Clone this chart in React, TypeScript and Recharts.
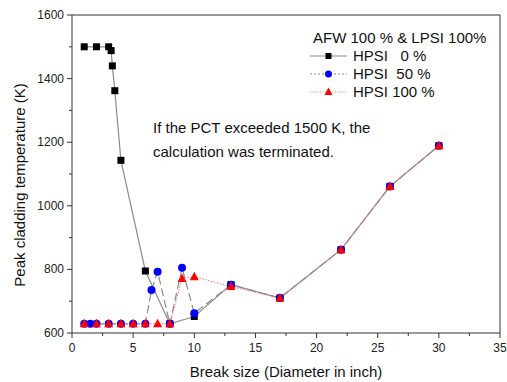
import { LineChart, Line, XAxis, YAxis, Legend, ReferenceLine } from "recharts";

const FONT = '"Liberation Sans", Arial, sans-serif';

// break size (inch) / peak cladding temperature (K)
const hpsi0X = [1, 2, 3, 3.2, 3.3, 3.5, 4, 6, 8, 10, 13, 17, 22, 26, 30];
const hpsi0Y = [1500, 1500, 1500, 1488, 1440, 1362, 1143, 795, 629, 652, 752, 710, 862, 1061, 1189];

const hpsi50X = [1, 1.5, 2, 3, 4, 5, 6, 6.5, 7, 8, 9, 10, 13, 17, 22, 26, 30];
const hpsi50Y = [629, 629, 629, 629, 629, 629, 629, 735, 793, 629, 805, 662, 752, 710, 862, 1061, 1189];

const hpsi100X = [1, 2, 3, 4, 5, 6, 7, 8, 9, 10, 13, 17, 22, 26, 30];
const hpsi100Y = [629, 629, 629, 629, 629, 629, 629, 629, 771, 777, 746, 710, 862, 1061, 1189];

const xTicks = [0, 2.5, 5, 7.5, 10, 12.5, 15, 17.5, 20, 22.5, 25, 27.5, 30, 32.5, 35];
const yTicks = [600, 700, 800, 900, 1000, 1100, 1200, 1300, 1400, 1500, 1600];

const toRows = (xs: number[], ys: number[]) => xs.map((x, i) => ({ x, y: ys[i] }));

const AXIS = "#333";
const TEXT = "#111";

function XTick(props: any) {
    const { x, y, payload } = props;
    const major = payload.value % 5 === 0;
    return (
        <g>
            <line x1={x} x2={x} y1={y} y2={y + (major ? 5 : 3)} stroke={AXIS} />
            {major && (
                <text x={x} y={y + 19} textAnchor="middle" fontSize={12} fill="#222" fontFamily={FONT}>
                    {payload.value}
                </text>
            )}
        </g>
    );
}

function YTick(props: any) {
    const { x, y, payload } = props;
    const major = payload.value % 200 === 0;
    return (
        <g>
            <line x1={x} x2={x - (major ? 5 : 3)} y1={y} y2={y} stroke={AXIS} />
            {major && (
                <text x={x - 8} y={y + 4} textAnchor="end" fontSize={12} fill="#222" fontFamily={FONT}>
                    {payload.value}
                </text>
            )}
        </g>
    );
}

function XLabel(props: any) {
    const { x, y, width } = props.viewBox;
    return (
        <text x={x + width / 2} y={y + 44} textAnchor="middle" fontSize={15} fill={TEXT} fontFamily={FONT}>
            Break size (Diameter in inch)
        </text>
    );
}

function YLabel(props: any) {
    const { y, height } = props.viewBox;
    const cx = 25;
    const cy = y + height / 2 + 11;
    return (
        <text
            x={cx}
            y={cy}
            transform={`rotate(-90, ${cx}, ${cy})`}
            textAnchor="middle"
            fontSize={15}
            fill={TEXT}
            fontFamily={FONT}
        >
            Peak cladding temperature (K)
        </text>
    );
}

const square = (p: any) => (
    <rect key={`s${p.index}`} x={p.cx - 3.5} y={p.cy - 3.5} width={7} height={7} fill="#000" />
);
const circle = (p: any) => <circle key={`c${p.index}`} cx={p.cx} cy={p.cy} r={4} fill="#0000ff" />;
const triangle = (p: any) => (
    <polygon
        key={`t${p.index}`}
        points={`${p.cx},${p.cy - 5} ${p.cx - 4.5},${p.cy + 3.5} ${p.cx + 4.5},${p.cy + 3.5}`}
        fill="#ff0000"
    />
);

const legendRows = [
    { name: "HPSI   0 %", stroke: "#888", dash: undefined, marker: "square" },
    { name: "HPSI  50 %", stroke: "#8a8aa8", dash: "2 2", marker: "circle" },
    { name: "HPSI 100 %", stroke: "#f08080", dash: "1 1.5", marker: "triangle" },
];

function LegendBox() {
    return (
        <div style={{ fontFamily: FONT, fontSize: 15, color: TEXT, lineHeight: "18px" }}>
            <div style={{ paddingLeft: 3 }}>AFW 100 % &amp; LPSI 100%</div>
            {legendRows.map((r) => (
                <div key={r.name} style={{ display: "flex", alignItems: "center", height: 18 }}>
                    <svg width={37} height={18} style={{ marginRight: 6 }}>
                        <line x1={0} x2={37} y1={9} y2={9} stroke={r.stroke} strokeDasharray={r.dash} />
                        {r.marker === "square" && <rect x={15.5} y={6} width={6} height={6} fill="#000" />}
                        {r.marker === "circle" && <circle cx={18.5} cy={9} r={3.5} fill="#0000ff" />}
                        {r.marker === "triangle" && <polygon points="18.5,4.5 14.5,12 22.5,12" fill="#ff0000" />}
                    </svg>
                    <span style={{ whiteSpace: "pre" }}>{r.name}</span>
                </div>
            ))}
        </div>
    );
}

export default function App() {
    return (
        <div style={{ position: "absolute", left: 0, top: 0, width: 507, height: 382, fontFamily: FONT }}>
            <LineChart width={507} height={382} margin={{ top: 15, right: 7, left: 0, bottom: 0 }}>
                <XAxis
                    dataKey="x"
                    type="number"
                    domain={[0, 35]}
                    ticks={xTicks}
                    interval={0}
                    tick={<XTick />}
                    tickLine={false}
                    tickSize={0}
                    tickMargin={0}
                    height={49}
                    axisLine={{ stroke: AXIS }}
                    allowDuplicatedCategory={false}
                    label={<XLabel />}
                />
                <YAxis
                    dataKey="y"
                    type="number"
                    domain={[600, 1600]}
                    ticks={yTicks}
                    interval={0}
                    tick={<YTick />}
                    tickLine={false}
                    tickSize={0}
                    tickMargin={0}
                    width={72}
                    axisLine={{ stroke: AXIS }}
                    label={<YLabel />}
                />
                <ReferenceLine y={1600} stroke={AXIS} />
                <ReferenceLine x={35} stroke={AXIS} />
                <Line
                    data={toRows(hpsi0X, hpsi0Y)}
                    dataKey="y"
                    name="HPSI 0 %"
                    stroke="#8c8c8c"
                    strokeWidth={1.2}
                    dot={square}
                    activeDot={false}
                    isAnimationActive={false}
                />
                <Line
                    data={toRows(hpsi50X, hpsi50Y)}
                    dataKey="y"
                    name="HPSI 50 %"
                    stroke="#8a8a8a"
                    strokeWidth={1.2}
                    strokeDasharray="8 4"
                    dot={circle}
                    activeDot={false}
                    isAnimationActive={false}
                />
                <Line
                    data={toRows(hpsi100X, hpsi100Y)}
                    dataKey="y"
                    name="HPSI 100 %"
                    stroke="#f07070"
                    strokeWidth={1}
                    strokeDasharray="1.5 1.5"
                    dot={triangle}
                    activeDot={false}
                    isAnimationActive={false}
                />
                <Legend
                    layout="vertical"
                    align="center"
                    verticalAlign="middle"
                    content={<LegendBox />}
                    wrapperStyle={{ top: 29, left: 310, width: 190 }}
                />
            </LineChart>
            <div
                style={{
                    position: "absolute",
                    left: 153,
                    top: 116,
                    fontSize: 15,
                    lineHeight: "24px",
                    color: TEXT,
                    whiteSpace: "nowrap",
                    pointerEvents: "none",
                }}
            >
                If the PCT exceeded 1500 K, the
                <br />
                calculation was terminated.
            </div>
        </div>
    );
}
